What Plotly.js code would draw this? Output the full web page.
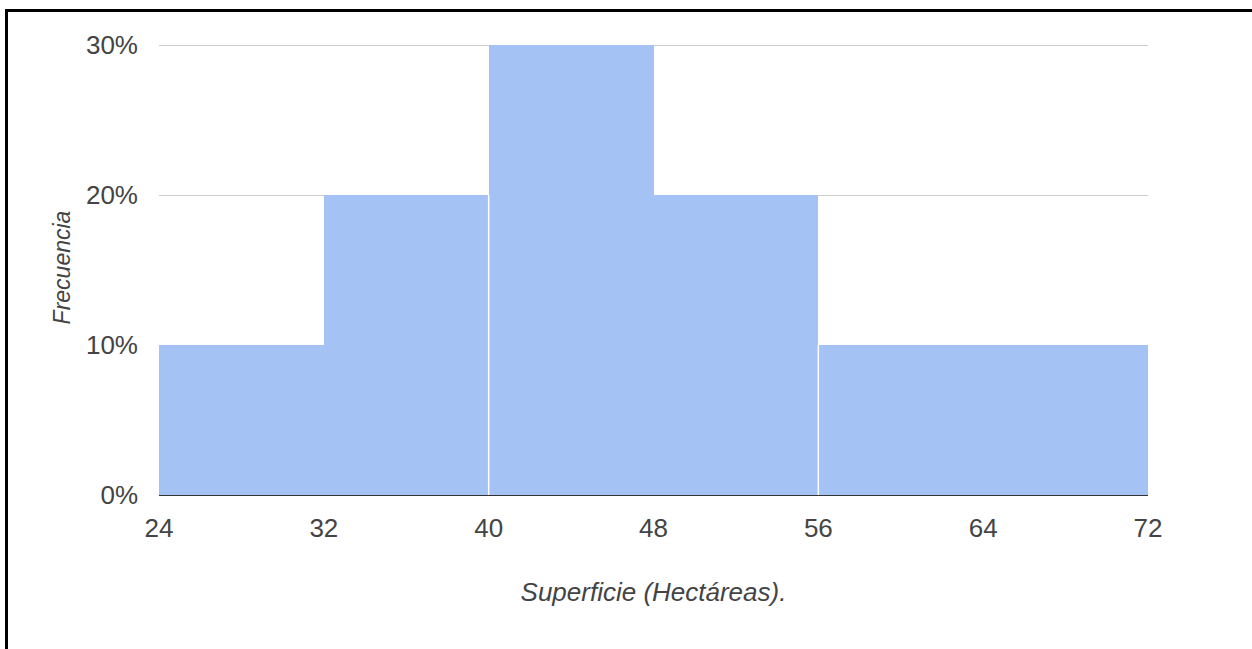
<!DOCTYPE html>
<html><head><meta charset="utf-8">
<script src="https://cdn.plot.ly/plotly-3.0.1.min.js"></script>
<style>
html,body{margin:0;padding:0;background:#fff;overflow:hidden;}
#chart{width:1252px;height:649px;}
#frame{position:absolute;left:5px;top:9px;width:1400px;height:800px;border-left:3px solid #000;border-top:3px solid #000;pointer-events:none;}
</style></head>
<body>
<div id="chart"></div>
<div id="frame"></div>
<script>
const binStarts = [24, 32, 40, 48, 56, 64];
const binWidth = 8;
const frequencies = [10, 20, 30, 20, 10, 10];
const separators = [40, 56];
const xTicks = [24, 32, 40, 48, 56, 64, 72];
const yTicks = [0, 10, 20, 30];
const xTitle = 'Superficie (Hectáreas).';
const yTitle = 'Frecuencia';

const centers = binStarts.map(s => s + binWidth / 2);

function heightAt(x) {
  const i = binStarts.findIndex(s => x >= s && x < s + binWidth);
  return i >= 0 ? frequencies[i] : 0;
}

const shapes = separators.map(x => ({
  type: 'line', xref: 'x', yref: 'y', layer: 'above',
  x0: x, x1: x, y0: 0, y1: Math.min(heightAt(x - 0.001), heightAt(x + 0.001)),
  line: {color: '#ffffff', width: 1.5}
}));

const trace = {
  type: 'bar', x: centers, y: frequencies, width: binWidth,
  marker: {color: '#a4c2f4', line: {width: 0}},
  hoverinfo: 'skip'
};

const layout = {
  width: 1252, height: 649,
  margin: {l: 159, r: 104, t: 40, b: 154},
  paper_bgcolor: '#ffffff', plot_bgcolor: '#ffffff',
  font: {family: 'Arial, "Liberation Sans", sans-serif', color: '#444444', size: 26},
  showlegend: false,
  bargap: 0,
  xaxis: {
    range: [24, 72], tickvals: xTicks, ticktext: xTicks.map(String),
    showgrid: false, zeroline: false, showline: false, ticks: '',
    ticklabelstandoff: 15,
    tickfont: {size: 26, color: '#444444'},
    title: {text: xTitle, font: {size: 26, color: '#444444', style: 'italic'}, standoff: 40}
  },
  yaxis: {
    range: [0, 30.3333], tickvals: yTicks, ticktext: yTicks.map(v => v + '%'),
    showgrid: true, gridcolor: '#cccccc', gridwidth: 1,
    zeroline: true, zerolinecolor: '#333333', zerolinewidth: 1,
    showline: false, ticks: '', ticklabelstandoff: 20,
    tickfont: {size: 26, color: '#444444'},
    title: {text: yTitle, font: {size: 23, color: '#444444', style: 'italic'}, standoff: 8}
  },
  shapes: shapes
};

Plotly.newPlot('chart', [trace], layout, {displayModeBar: false, staticPlot: true});
</script>
</body></html>
